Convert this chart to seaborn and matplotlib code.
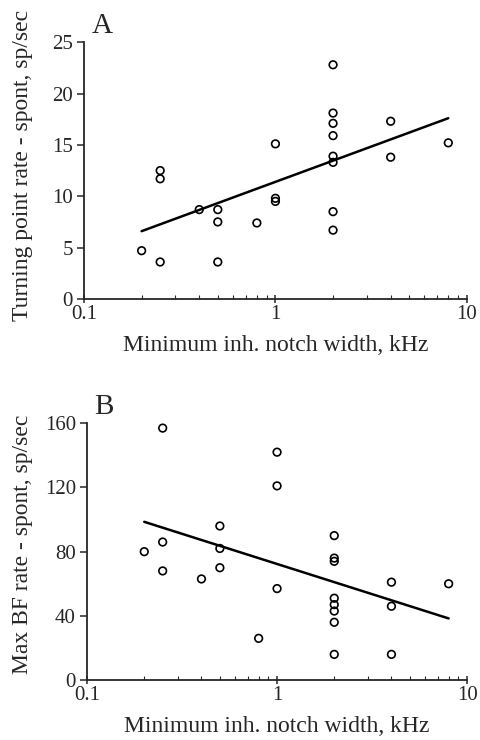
import numpy as np
import pandas as pd
import matplotlib.pyplot as plt
import matplotlib.ticker as mticker
import seaborn as sns

# ----------------------------------------------------------------------------------------------
# Data
# ----------------------------------------------------------------------------------------------
# Panel A: turning point rate - spont vs minimum inhibitory notch width
notch_a = [0.2, 0.25, 0.25, 0.25, 0.4, 0.5, 0.5, 0.5, 0.8, 1, 1, 1,
           2, 2, 2, 2, 2, 2, 2, 2, 4, 4, 8]
rate_a = [4.7, 3.6, 12.5, 11.7, 8.7, 8.7, 7.5, 3.6, 7.4, 15.1, 9.8, 9.5,
          22.8, 18.1, 17.1, 15.9, 13.9, 13.3, 8.5, 6.7, 17.3, 13.8, 15.2]
fit_x_a = [0.2, 8]
fit_y_a = [6.6, 17.6]

# Panel B: max BF rate - spont vs minimum inhibitory notch width
notch_b = [0.2, 0.25, 0.25, 0.25, 0.4, 0.5, 0.5, 0.5, 0.8, 1, 1, 1,
           2, 2, 2, 2, 2, 2, 2, 2, 4, 4, 4, 8]
rate_b = [80, 157, 86, 68, 63, 96, 82, 70, 26, 142, 121, 57,
          90, 76, 74, 51, 47, 43, 36, 16, 61, 46, 16, 60]
fit_x_b = [0.2, 8]
fit_y_b = [98.6, 38.4]

df_a = pd.DataFrame({"notch": notch_a, "rate": rate_a})
df_b = pd.DataFrame({"notch": notch_b, "rate": rate_b})

# ----------------------------------------------------------------------------------------------
# Style
# ----------------------------------------------------------------------------------------------
sns.set_style("ticks")
plt.rcParams["font.family"] = ["Liberation Serif", "DejaVu Serif"]
plt.rcParams["axes.linewidth"] = 1.3

fig = plt.figure(figsize=(4.81, 7.40), dpi=100)
ax_a = fig.add_axes([0.1746, 0.596, 0.796, 0.347])
ax_b = fig.add_axes([0.181, 0.081, 0.790, 0.347])


def style_panel(ax, df, fx, fy, ylim, yticks, ylabel, letter, label_x, label_y):
    sns.scatterplot(
        x="notch", y="rate", data=df, ax=ax,
        marker="o", s=30, facecolor="none", edgecolor="black", linewidth=1.2,
        zorder=3,
    )
    sns.lineplot(x=fx, y=fy, ax=ax, color="black", linewidth=1.8)
    ax.set_xscale("log")
    ax.set_xlim(0.1, 10)
    ax.set_ylim(*ylim)
    ax.set_yticks(yticks)
    ax.xaxis.set_major_formatter(mticker.FuncFormatter(lambda v, p: f"{v:g}"))
    ax.xaxis.set_minor_locator(mticker.LogLocator(base=10, subs=np.arange(2, 10)))
    ax.xaxis.set_minor_formatter(mticker.NullFormatter())
    ax.tick_params(axis="y", direction="out", length=5, width=1.1, labelsize=15, pad=3)
    ax.tick_params(axis="x", which="major", direction="inout", length=6, width=1.1,
                   labelsize=15, pad=1)
    ax.tick_params(axis="x", which="minor", direction="in", length=3, width=0.8)
    ax.set_xlabel("Minimum inh. notch width, kHz", fontsize=17, labelpad=8)
    ax.set_ylabel(ylabel, fontsize=17)
    ax.yaxis.set_label_coords(label_x, label_y)
    ax.text(0.02, 1.035, letter, transform=ax.transAxes, fontsize=21)
    sns.despine(ax=ax)


style_panel(ax_a, df_a, fit_x_a, fit_y_a, (0, 25), [0, 5, 10, 15, 20, 25],
            "Turning point rate - spont, sp/sec", "A", -0.133, 0.52)
style_panel(ax_b, df_b, fit_x_b, fit_y_b, (0, 160), [0, 40, 80, 120, 160],
            "Max BF rate - spont, sp/sec", "B", -0.142, 0.53)

plt.savefig("out.png", dpi=100)
plt.close()
